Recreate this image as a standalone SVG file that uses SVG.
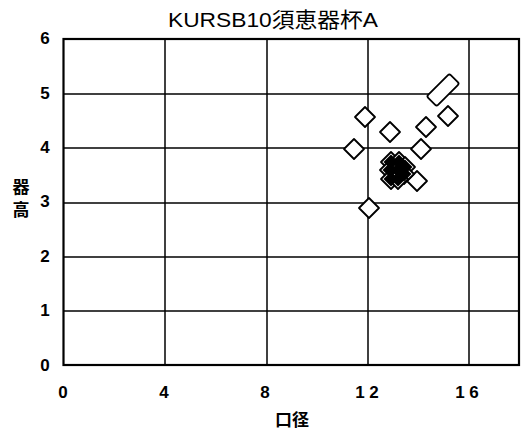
<svg xmlns="http://www.w3.org/2000/svg" width="527" height="435" viewBox="0 0 527 435">
<style>
.bg{fill:#fff}
.grid{stroke:#000;stroke-width:1.5;fill:none}
.frame{stroke:#000;stroke-width:2.2;fill:none}
.tick{font-family:"Liberation Sans Narrow","Liberation Sans",Arial,sans-serif;font-weight:bold;font-size:17px;fill:#000}
.title{font-family:"Liberation Sans","Noto Sans CJK JP",sans-serif;font-size:21px;fill:#000}
.axis{font-family:"Noto Sans CJK JP","Liberation Sans",sans-serif;font-weight:bold;font-size:17px;fill:#000}
.pt{fill:#fff;stroke:#000;stroke-width:1.8;stroke-linejoin:round}
.blk{fill:#000;stroke:none}
</style>
<defs>
<path id="dia" d="M0,-10 L10,0 L0,10 L-10,0 Z"/>
<path id="diaS" d="M0,-7.5 L7.5,0 L0,7.5 L-7.5,0 Z"/>
</defs>
<rect class="bg" x="0" y="0" width="527" height="435"/>
<text class="title" x="273" y="27" text-anchor="middle" textLength="210" lengthAdjust="spacingAndGlyphs">KURSB10須恵器杯A</text>
<g id="grid">
<line class="grid" x1="165" y1="39" x2="165" y2="365"/>
<line class="grid" x1="267" y1="39" x2="267" y2="365"/>
<line class="grid" x1="368" y1="39" x2="368" y2="365"/>
<line class="grid" x1="469" y1="39" x2="469" y2="365"/>
<line class="grid" x1="63" y1="94" x2="519" y2="94"/>
<line class="grid" x1="63" y1="148" x2="519" y2="148"/>
<line class="grid" x1="63" y1="203" x2="519" y2="203"/>
<line class="grid" x1="63" y1="257" x2="519" y2="257"/>
<line class="grid" x1="63" y1="311" x2="519" y2="311"/>
<rect class="frame" x="63.5" y="39" width="455.5" height="326"/>
</g>
<g id="yticks" class="tick" text-anchor="middle">
<text x="45" y="44">6</text>
<text x="45" y="99">5</text>
<text x="45" y="153">4</text>
<text x="45" y="207">3</text>
<text x="45" y="262">2</text>
<text x="45" y="316">1</text>
<text x="45" y="371">0</text>
</g>
<g id="xticks" class="tick" text-anchor="middle">
<text x="63" y="398">0</text>
<text x="164" y="398">4</text>
<text x="265" y="398">8</text>
<text x="367" y="398">1 2</text>
<text x="467" y="398">1 6</text>
</g>
<text class="axis" x="292" y="426" text-anchor="middle">口径</text>
<g id="ylabel" class="axis" text-anchor="middle">
<text x="21" y="193">器</text>
<text x="21" y="216">高</text>
</g>
<g id="p1"><rect class="pt" x="427" y="83" width="32" height="14" rx="2" transform="rotate(-45 443 90)"/></g>
<g id="p2"><use href="#dia" class="pt" x="365" y="117"/></g>
<g id="p3"><use href="#dia" class="pt" x="448" y="116"/></g>
<g id="p4"><use href="#dia" class="pt" x="390" y="132"/></g>
<g id="p5"><use href="#dia" class="pt" x="426" y="127"/></g>
<g id="p6"><use href="#dia" class="pt" x="354" y="149"/></g>
<g id="p7"><use href="#dia" class="pt" x="421" y="149"/></g>
<g id="p8"><use href="#dia" class="pt" x="417" y="181"/></g>
<g id="p9"><use href="#dia" class="pt" x="369" y="208"/></g>
<g id="cluster">
<use href="#dia" class="pt" x="391" y="162"/>
<use href="#dia" class="pt" x="399" y="162"/>
<use href="#dia" class="pt" x="405" y="167"/>
<use href="#dia" class="pt" x="390" y="170"/>
<use href="#dia" class="pt" x="398" y="170"/>
<use href="#dia" class="pt" x="404" y="174"/>
<use href="#dia" class="pt" x="391" y="179"/>
<use href="#dia" class="pt" x="398" y="179"/>
<use href="#diaS" class="blk" x="391" y="162"/>
<use href="#diaS" class="blk" x="399" y="162"/>
<use href="#diaS" class="blk" x="405" y="167"/>
<use href="#diaS" class="blk" x="390" y="170"/>
<use href="#diaS" class="blk" x="398" y="170"/>
<use href="#diaS" class="blk" x="404" y="174"/>
<use href="#diaS" class="blk" x="391" y="179"/>
<use href="#diaS" class="blk" x="398" y="179"/>
</g>
</svg>
